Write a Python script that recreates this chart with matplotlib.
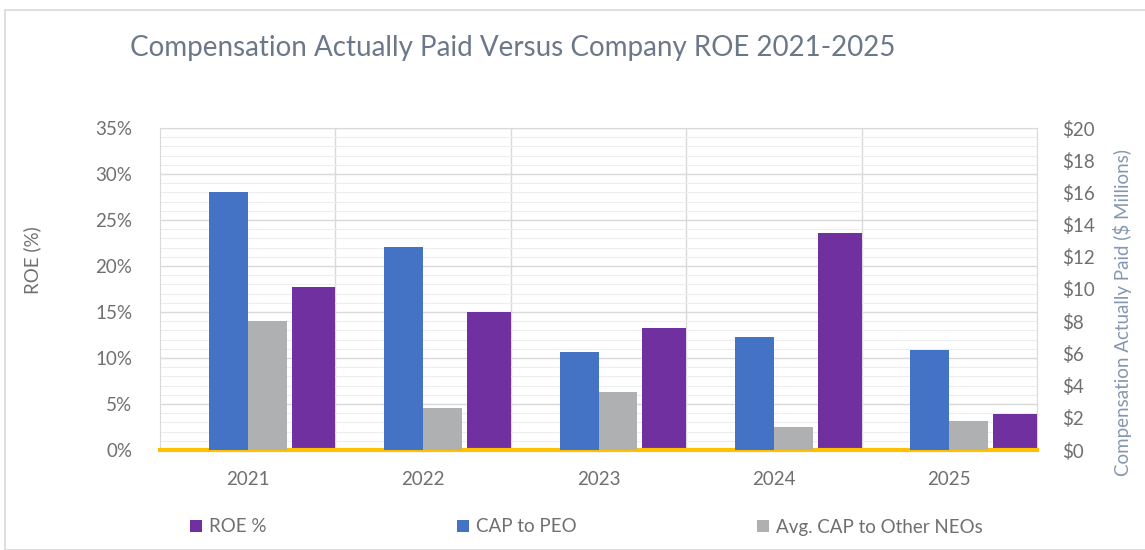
import matplotlib
matplotlib.use("Agg")
import matplotlib.pyplot as plt
import numpy as np
from matplotlib.patches import Rectangle
from matplotlib.ticker import MultipleLocator, FuncFormatter

years = ["2021", "2022", "2023", "2024", "2025"]
roe_pct = [17.7, 15.0, 13.3, 23.6, 3.9]
cap_peo = [16.0, 12.6, 6.1, 7.0, 6.2]
cap_neo = [8.0, 2.6, 3.6, 1.4, 1.8]

FONT = "Lato"
plt.rcParams["font.family"] = [FONT, "DejaVu Sans"]

W, H = 1145, 550
fig = plt.figure(figsize=(W / 100, H / 100), dpi=100)
fig.patch.set_facecolor("white")
fig.add_artist(Rectangle((5 / W, 0), 1.2, 1 - 10 / H, transform=fig.transFigure,
                         fill=False, edgecolor="#d9d9d9", linewidth=1.2))

L, R, T, B = 160, 1037, 128, 450
ax = fig.add_axes([L / W, 1 - B / H, (R - L) / W, (B - T) / H])
ax2 = ax.twinx()

x = np.arange(len(years))
ax.set_xlim(-0.5, len(years) - 0.5)
ax.set_ylim(0, 35)
ax2.set_ylim(0, 20)

# grid
ax.yaxis.set_major_locator(MultipleLocator(5))
ax.yaxis.set_minor_locator(MultipleLocator(1))
ax.grid(which="major", axis="y", color="#d9d9d9", linewidth=1.0)
ax.grid(which="minor", axis="y", color="#ededed", linewidth=0.8)
for b in np.arange(0.5, len(years) - 0.5, 1):
    ax.axvline(b, color="#d9d9d9", linewidth=1.0, zorder=0.5)
ax.set_axisbelow(True)
ax2.yaxis.set_major_locator(MultipleLocator(2))

bw = 0.222
b_peo = ax2.bar(x - bw / 2, cap_peo, width=bw, color="#4472C4", label="CAP to PEO", zorder=3)
b_neo = ax2.bar(x + bw / 2, cap_neo, width=bw, color="#AFB0B2", label="Avg. CAP to Other NEOs", zorder=3)
b_roe = ax.bar(x + 0.375, roe_pct, width=0.25, color="#7030A0", label="ROE %", zorder=3)

for a in (ax, ax2):
    for s in a.spines.values():
        s.set_visible(False)
for side in ("left", "top", "right"):
    ax.spines[side].set_visible(True)
    ax.spines[side].set_color("#d9d9d9")
ax.axhline(0, color="#FFC000", linewidth=3, zorder=5, clip_on=False)

tick_color = "#6f6f6f"
fs = 13.5
ax.set_xticks(x)
ax.set_xticklabels(years)
ax.tick_params(axis="x", length=0, pad=15, labelsize=fs, colors=tick_color)
ax.tick_params(axis="y", which="both", length=0, pad=20, labelsize=fs, colors=tick_color)
ax.yaxis.set_major_formatter(FuncFormatter(lambda v, p: f"{v:.0f}%"))
ax2.tick_params(axis="y", length=0, pad=18, labelsize=fs, colors=tick_color)
ax2.yaxis.set_major_formatter(FuncFormatter(lambda v, p: f"${v:.0f}"))

fig.text(32 / W, 1 - 260 / H, "ROE (%)", rotation=90, ha="center", va="center",
         fontsize=fs, color=tick_color)
fig.text(1122 / W, 1 - 312 / H, "Compensation Actually Paid ($ Millions)", rotation=90,
         ha="center", va="center", fontsize=fs, color="#8497b0")

fig.text(130 / W, 1 - 48 / H, "Compensation Actually Paid Versus Company ROE 2021-2025",
         ha="left", va="center", fontsize=20, color="#6b7889")

# legend entries placed individually
for handle, lx in ((b_roe, 190), (b_peo, 457), (b_neo, 757)):
    leg = fig.legend([handle], [handle.get_label()], loc="center left",
                     bbox_to_anchor=(lx / W, 1 - 527 / H), frameon=False, fontsize=fs,
                     handlelength=0.65, handleheight=0.65, handletextpad=0.35,
                     borderpad=0, borderaxespad=0)
    for t in leg.get_texts():
        t.set_color(tick_color)

fig.savefig("out.png", dpi=100, facecolor="white")
